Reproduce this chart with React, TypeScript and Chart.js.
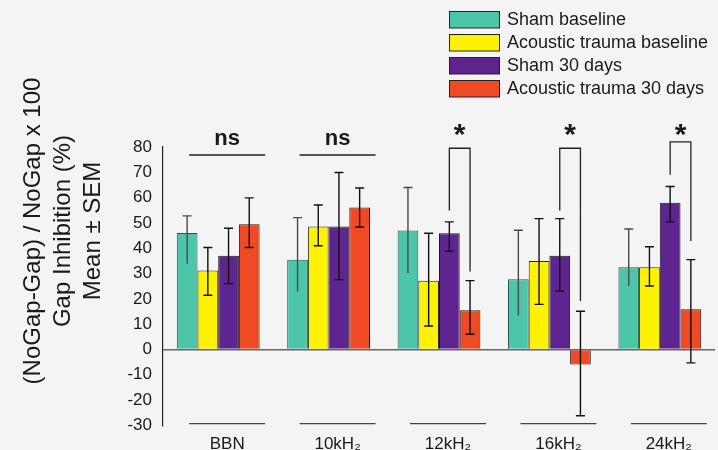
import React, { useEffect, useRef } from 'react';
import { Chart, registerables } from 'chart.js';

Chart.register(...registerables);

// ---------- data ----------
const categories = ['BBN', '10kH\u2082', '12kH\u2082', '16kH\u2082', '24kH\u2082'];
const seriesNames = ['Sham baseline', 'Acoustic trauma baseline', 'Sham 30 days', 'Acoustic trauma 30 days'];

const shamBaseline = [46, 35.5, 47, 27.7, 32.5];
const traumaBaseline = [31.2, 48.6, 27.2, 35, 32.5];
const sham30 = [37, 48.6, 45.9, 37, 58];
const trauma30 = [49.5, 56.1, 15.5, -5.9, 15.9];

// error bar ends (mean ± SEM as drawn)
const shamBaselineHigh = [52.8, 52.1, 64, 47.1, 47.6];
const shamBaselineLow = [33.9, 22.9, 30.2, 13.4, 25.1];
const traumaBaselineHigh = [40.3, 57.1, 45.9, 51.7, 40.6];
const traumaBaselineLow = [21.4, 41, 9.3, 17.8, 25.1];
const sham30High = [47.9, 69.9, 50.4, 51.7, 64.4];
const sham30Low = [26, 27.6, 38.8, 23, 50.4];
const trauma30High = [59.9, 63.8, 27.2, 15.1, 35.5];
const trauma30Low = [40.3, 48.4, 6, -26.2, -5.3];

const yMin = -30;
const yMax = 80;
const yStep = 10;

const yTitleLines = ['(NoGap-Gap) / NoGap x 100', 'Gap Inhibition (%)', 'Mean \u00b1 SEM'];

// significance annotations
const nsCategories = [0, 1];
const nsText = 'ns';
const nsTextValue = 83.2;
const nsLineValue = 76.8;
const starCategories = [2, 3, 4];
const starText = '*';
const starValue = 86.5;
const bracketTop = [79.5, 79.5, 82];
const bracketLeftEnd = [54.9, 54.9, 69];
const bracketRightEnd = [30.8, 19.2, 42.9];
const baseLineValue = -29.3;

// ---------- styles ----------
const FONT = "'Liberation Sans', Arial, Helvetica, sans-serif";
const TEXT = '#1a1a1a';
const BG = '#f4f4f4';
const colors = ['#4dc5a9', '#fff200', '#5e2590', '#f04a24'];
const borders = ['#24584d', '#2a2a1a', '#1a1a1a', '#2a1a1a'];
const errColors = ['#4a4a4a', '#111111', '#111111', '#111111'];
const lowCaps = [false, true, true, true];
const LABEL_SHIFT = 9;

const means = [shamBaseline, traumaBaseline, sham30, trauma30];
const highs = [shamBaselineHigh, traumaBaselineHigh, sham30High, trauma30High];
const lows = [shamBaselineLow, traumaBaselineLow, sham30Low, trauma30Low];

const bgPlugin = {
  id: 'bg',
  beforeDraw(chart: any) {
    const { ctx, width, height } = chart;
    ctx.save();
    ctx.fillStyle = BG;
    ctx.fillRect(0, 0, width, height);
    ctx.restore();
  },
};

const errorBarPlugin = {
  id: 'errorBars',
  afterDatasetsDraw(chart: any) {
    const ctx = chart.ctx;
    const y = chart.scales.y;
    ctx.save();
    chart.data.datasets.forEach((_ds: any, d: number) => {
      const meta = chart.getDatasetMeta(d);
      meta.data.forEach((bar: any, i: number) => {
        const hi = y.getPixelForValue(highs[d][i]);
        const lo = y.getPixelForValue(lows[d][i]);
        ctx.strokeStyle = errColors[d];
        ctx.lineWidth = 1.4;
        ctx.beginPath();
        ctx.moveTo(bar.x, hi);
        ctx.lineTo(bar.x, lo);
        ctx.moveTo(bar.x - 4.5, hi);
        ctx.lineTo(bar.x + 4.5, hi);
        if (lowCaps[d]) {
          ctx.moveTo(bar.x - 4.5, lo);
          ctx.lineTo(bar.x + 4.5, lo);
        }
        ctx.stroke();
      });
    });
    ctx.restore();
  },
};

const annotationPlugin = {
  id: 'annotations',
  afterDraw(chart: any) {
    const ctx = chart.ctx;
    const x = chart.scales.x;
    const y = chart.scales.y;
    ctx.save();
    ctx.strokeStyle = '#222';
    ctx.fillStyle = TEXT;
    ctx.lineWidth = 1.5;

    // ns labels with lines
    nsCategories.forEach((c) => {
      const cx = x.getPixelForValue(c) + LABEL_SHIFT;
      ctx.beginPath();
      ctx.moveTo(cx - 38, y.getPixelForValue(nsLineValue));
      ctx.lineTo(cx + 38, y.getPixelForValue(nsLineValue));
      ctx.stroke();
      ctx.font = `bold 22px ${FONT}`;
      ctx.textAlign = 'center';
      ctx.textBaseline = 'middle';
      ctx.fillText(nsText, cx, y.getPixelForValue(nsTextValue));
    });

    // brackets with stars
    const purple = chart.getDatasetMeta(2);
    const red = chart.getDatasetMeta(3);
    starCategories.forEach((c, k) => {
      const x1 = purple.data[c].x;
      const x2 = red.data[c].x;
      const top = y.getPixelForValue(bracketTop[k]);
      ctx.lineWidth = 1.3;
      ctx.beginPath();
      ctx.moveTo(x1, y.getPixelForValue(bracketLeftEnd[k]));
      ctx.lineTo(x1, top);
      ctx.lineTo(x2, top);
      ctx.lineTo(x2, y.getPixelForValue(bracketRightEnd[k]));
      ctx.stroke();
      ctx.font = `bold 30px ${FONT}`;
      ctx.textAlign = 'center';
      ctx.textBaseline = 'middle';
      ctx.fillText(starText, (x1 + x2) / 2, y.getPixelForValue(starValue) + 5);
    });

    // baseline segments under each category
    ctx.strokeStyle = '#444';
    ctx.lineWidth = 1.3;
    categories.forEach((_c, i) => {
      const cx = x.getPixelForValue(i) + LABEL_SHIFT;
      const yy = y.getPixelForValue(baseLineValue);
      ctx.beginPath();
      ctx.moveTo(cx - 38, yy);
      ctx.lineTo(cx + 38, yy);
      ctx.stroke();
    });

    // y title
    ctx.save();
    ctx.translate(63.5, 231);
    ctx.rotate(-Math.PI / 2);
    ctx.font = `24px ${FONT}`;
    ctx.textAlign = 'center';
    ctx.textBaseline = 'middle';
    ctx.fillStyle = TEXT;
    yTitleLines.forEach((line, i) => {
      ctx.fillText(line, 0, (i - 1) * 30);
    });
    ctx.restore();

    // legend
    ctx.font = `18px ${FONT}`;
    ctx.textAlign = 'left';
    ctx.textBaseline = 'middle';
    chart.data.datasets.forEach((ds: any, d: number) => {
      const cy = 19.5 + d * 23;
      ctx.fillStyle = ds.backgroundColor;
      ctx.fillRect(449.5, cy - 8, 50, 16.5);
      ctx.strokeStyle = '#222';
      ctx.lineWidth = 1;
      ctx.strokeRect(449.5, cy - 8, 50, 16.5);
      ctx.fillStyle = TEXT;
      ctx.fillText(ds.label, 507, cy + 1);
    });

    ctx.restore();
  },
};

export default function App() {
  const canvasRef = useRef<HTMLCanvasElement | null>(null);

  useEffect(() => {
    const canvas = canvasRef.current;
    if (!canvas) return;
    Chart.defaults.font.family = FONT;
    const chart = new Chart(canvas, {
      type: 'bar',
      data: {
        labels: categories,
        datasets: seriesNames.map((name, d) => ({
          label: name,
          data: means[d],
          backgroundColor: colors[d],
          borderColor: borders[d],
          borderWidth: 1,
          categoryPercentage: 0.75,
          barPercentage: 1,
        })),
      },
      options: {
        responsive: false,
        animation: false,
        devicePixelRatio: 1,
        layout: { padding: { top: 147, right: 3, left: 0, bottom: 0 } },
        plugins: {
          legend: { display: false },
          tooltip: { enabled: false },
          title: { display: false },
        },
        scales: {
          x: {
            type: 'category',
            grid: { display: false },
            border: { display: false },
            ticks: {
              font: { size: 17, family: FONT },
              color: TEXT,
              labelOffset: LABEL_SHIFT,
              padding: 1,
              maxRotation: 0,
              autoSkip: false,
            },
            afterFit(scale: any) {
              scale.height = 24.6;
            },
          },
          y: {
            min: yMin,
            max: yMax,
            grid: {
              drawTicks: false,
              lineWidth: 1.5,
              color: (c: any) => (c.tick && c.tick.value === 0 ? '#666' : 'rgba(0,0,0,0)'),
            },
            border: { display: true, color: '#222', width: 1.2 },
            ticks: {
              stepSize: yStep,
              font: { size: 17, family: FONT },
              color: TEXT,
              padding: 11,
            },
            afterFit(scale: any) {
              scale.width = 163;
            },
          },
        },
      },
      plugins: [bgPlugin, errorBarPlugin, annotationPlugin],
    } as any);
    return () => chart.destroy();
  }, []);

  return (
    <div style={{ position: 'fixed', left: 0, top: 0, width: 718, height: 450, background: BG }}>
      <canvas ref={canvasRef} width={718} height={450} style={{ width: 718, height: 450 }} />
    </div>
  );
}
